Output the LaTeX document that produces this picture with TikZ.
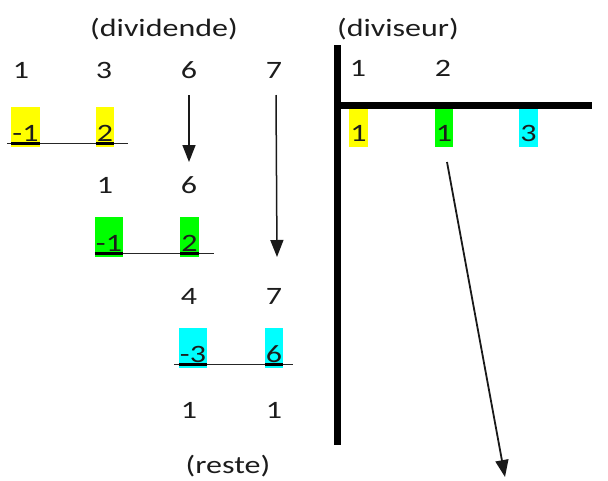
\documentclass[tikz,border=0pt]{standalone}
\usepackage{fontspec}
\usepackage{graphicx}
\setmainfont{Carlito}
\usetikzlibrary{arrows.meta,calc}
\newcommand\sx[1]{\scalebox{1.28}[1]{#1}}
\definecolor{ink}{HTML}{1C1C1C}
\definecolor{hlyellow}{HTML}{FFFF00}
\definecolor{hlgreen}{HTML}{00FF00}
\definecolor{hlcyan}{HTML}{00FFFF}
\begin{document}
\begin{tikzpicture}[x=1pt,y=-1pt,
  txt/.style={font=\fontsize{25}{30}\selectfont, text=ink, inner sep=0pt, anchor=base},
  hl/.style={txt, fill=#1, inner xsep=1pt, inner ysep=0pt, text height=34pt, text depth=6pt},
  rule/.style={draw=black!85, line width=1.2pt},
  uline/.style={draw=black, line width=2.6pt},
  bar/.style={draw=black, line width=7pt},
  arr/.style={draw=black!90, line width=1.5pt, -{Triangle[width=13pt,length=17pt]}}]
\useasboundingbox (0,0) rectangle (608,480);

% labels
\node[txt] (lblD) at (164,36) {\sx{(dividende)}};
\node[txt] (lblV) at (398,36) {\sx{(diviseur)}};
\node[txt] (lblR) at (228,473) {\sx{(reste)}};

% dividend
\node[txt] (a1) at (21,78) {\sx{1}};
\node[txt] (a2) at (104,78) {\sx{3}};
\node[txt] (a3) at (189,78) {\sx{6}};
\node[txt] (a4) at (274,78) {\sx{7}};

% divisor
\node[txt] (d1) at (358,76) {\sx{1}};
\node[txt] (d2) at (443,76) {\sx{2}};

% quotient
\node[hl=hlyellow] (q1) at (358.5,141) {\sx{1}};
\node[hl=hlgreen]  (q2) at (444,141) {\sx{1}};
\node[hl=hlcyan]   (q3) at (528.5,141) {\sx{3}};

% first step
\node[hl=hlyellow] (b1) at (25.5,141) {\sx{-1}};
\node[hl=hlyellow] (b2) at (105,141) {\sx{2}};
\node[txt] (c2) at (105,193) {\sx{1}};
\node[txt] (c3) at (189,193) {\sx{6}};

% second step
\node[hl=hlgreen] (e2) at (109,251) {\sx{-1}};
\node[hl=hlgreen] (e3) at (189.5,251) {\sx{2}};
\node[txt] (f3) at (189,304) {\sx{4}};
\node[txt] (f4) at (274,304) {\sx{7}};

% third step
\node[hl=hlcyan] (g3) at (193,362) {\sx{-3}};
\node[hl=hlcyan] (g4) at (274,362) {\sx{6}};
\node[txt] (h3) at (189,418) {\sx{1}};
\node[txt] (h4) at (274,418) {\sx{1}};

% subtraction rules
\draw[rule] ([xshift=-4pt,yshift=4pt]b1.south west) -- ([xshift=14pt,yshift=4pt]b2.south east);
\draw[rule] ([yshift=4pt]e2.south west) -- ([xshift=15pt,yshift=4pt]e3.south east);
\draw[rule] ([xshift=-5pt,yshift=4pt]g3.south west) -- ([xshift=10pt,yshift=4pt]g4.south east);
\foreach \n in {b1,b2,e2,e3,g3,g4}
  \draw[uline] ([yshift=4pt]\n.south west) -- ([yshift=4pt]\n.south east);

% division bracket
\draw[bar] (337,45) -- (337,445);
\draw[bar] (337,105) -- (592,105);

% arrows bringing down digits
\draw[arr] ($(a3.base)+(0,17)$) -- ($(c3.base)+(0,-31)$);
\draw[arr] ($(a4.base)+(2,17)$) -- ($(f4.base)+(3,-47)$);
\coordinate (tip) at (505,477);
\draw[arr, line width=1.8pt] ($(q2.base)+(3,21)$) -- (tip);
\end{tikzpicture}
\end{document}
